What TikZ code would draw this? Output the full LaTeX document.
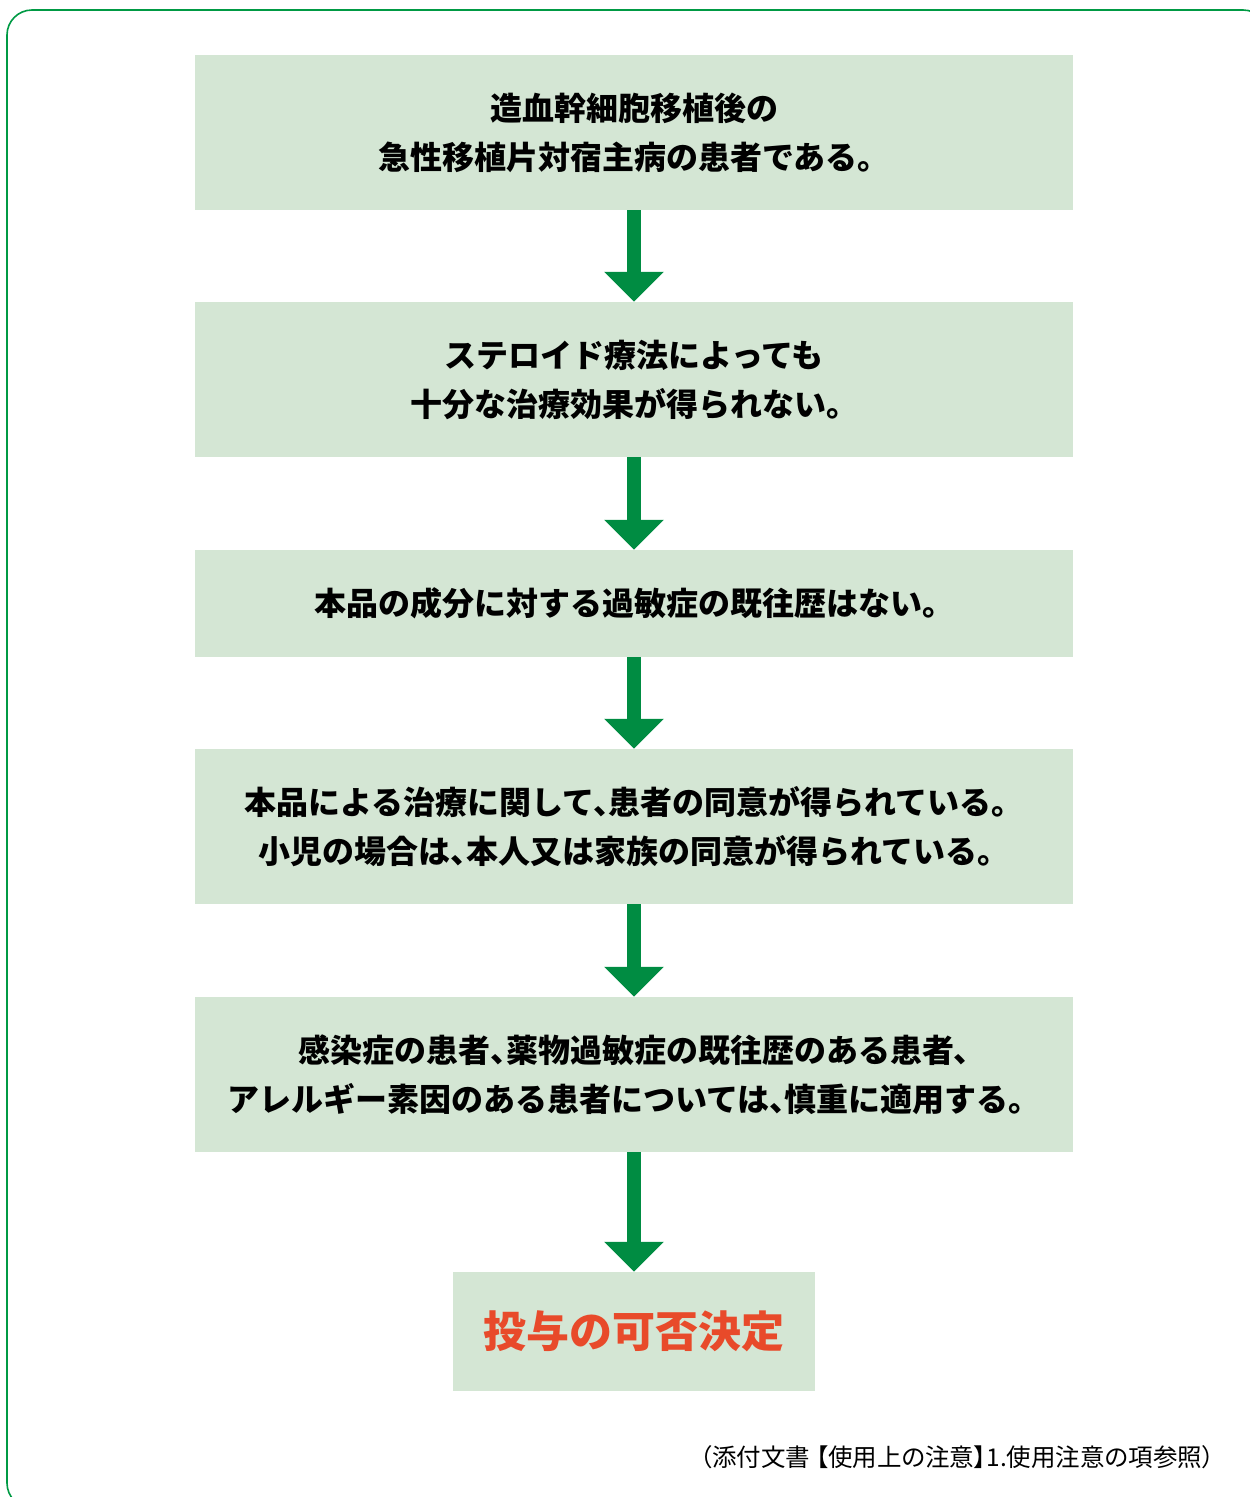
\documentclass[tikz,border=0pt]{standalone}
\usepackage{fontspec}
\usetikzlibrary{arrows.meta}
\newfontfamily\jp{Noto Sans CJK JP}
\newfontfamily\jpp{Noto Sans CJK JP}[RawFeature=+palt]
\definecolor{frameg}{HTML}{009A44}
\definecolor{boxg}{HTML}{D4E6D4}
\definecolor{arrg}{HTML}{008C42}
\definecolor{resred}{HTML}{E84A2A}
\newcommand\tc{、\kern-0.52em}
\tikzset{
  stepbox/.style={fill=boxg, draw=none, inner sep=0pt, minimum width=878pt, align=center,
    font=\jp\bfseries\fontsize{32}{49}\selectfont, text=black},
  flowarrow/.style={draw=arrg, line width=14pt, -{Triangle[width=58pt,length=30pt]}}
}
\begin{document}
\begin{tikzpicture}[x=1pt,y=1pt]
\useasboundingbox (0,0) rectangle (1250,-1497);
\begin{scope}
\clip (0,0) rectangle (1250,-1497);
\draw[frameg, line width=1.6pt, rounded corners=25pt] (7,-10) rectangle (1268,-1508);
\end{scope}
\node[stepbox, minimum height=155pt] (b1) at (634,-132.5) {造血幹細胞移植後の\\急性移植片対宿主病の患者である。};
\node[stepbox, minimum height=155pt] (b2) at (634,-379.5) {ステロイド療法によっても\\十分な治療効果が得られない。};
\node[stepbox, minimum height=107pt] (b3) at (634,-603.5) {本品の成分に対する過敏症の既往歴はない。};
\node[stepbox, minimum height=155pt] (b4) at (634,-826.5) {本品による治療に関して\tc 患者の同意が得られている。\\小児の場合は\tc 本人又は家族の同意が得られている。};
\node[stepbox, minimum height=155pt] (b5) at (634,-1074.5) {感染症の患者\tc 薬物過敏症の既往歴のある患者\tc\\アレルギー素因のある患者については\tc 慎重に適用する。};
\node[stepbox, minimum width=362pt, minimum height=119pt, text=resred, font=\jp\bfseries\fontsize{43}{50}\selectfont] (b6) at (634,-1331.5) {投与の可否決定};
\draw[flowarrow] (b1.south) -- (b2.north);
\draw[flowarrow] (b2.south) -- (b3.north);
\draw[flowarrow] (b3.south) -- (b4.north);
\draw[flowarrow] (b4.south) -- (b5.north);
\draw[flowarrow] (b5.south) -- (b6.north);
\node[anchor=west, inner sep=0pt, font=\jpp\fontsize{24.5}{28}\selectfont] (note) at (700,-1457) {（添付文書 【使用上の注意】1.使用注意の項参照）};
\end{tikzpicture}
\end{document}
